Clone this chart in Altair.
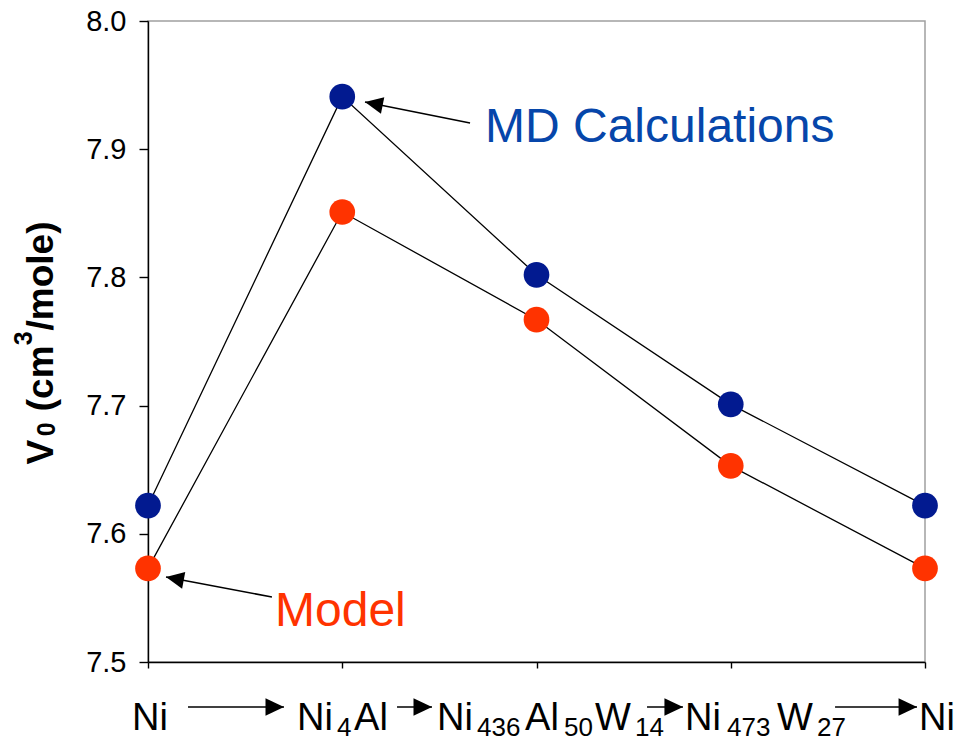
import altair as alt
import pandas as pd

# ---- data ----
categories = ["Ni", "Ni4Al", "Ni436Al50W14", "Ni473W27", "Ni (final)"]
x_index = [0, 1, 2, 3, 4]
md_values = [7.622, 7.941, 7.802, 7.701, 7.622]
model_values = [7.573, 7.851, 7.767, 7.653, 7.573]
y_ticks = [7.5, 7.6, 7.7, 7.8, 7.9, 8.0]

# x-axis label pieces (composition formulas with subscripts), positions in data units
xl_text = ["Ni", "Ni", "4", "Al", "Ni", "436", "Al", "50", "W", "14", "Ni", "473", "W", "27", "Ni"]
xl_x = [-0.082, 0.767, 0.973, 1.061, 1.488, 1.694, 1.941, 2.142, 2.301, 2.507, 2.765, 2.981, 3.238, 3.444, 3.969]
xl_sub = [0, 0, 1, 0, 0, 1, 0, 1, 0, 1, 0, 1, 0, 1, 0]
xl_y_main = 7.4470
xl_y_sub = 7.4425

# arrows between composition labels
ax_tail = [0.206, 1.282, 2.569, 3.537]
ax_tip = [0.700, 1.462, 2.754, 3.959]
ax_y = 7.4649

# annotation arrows (MD Calculations, Model)
an_tail_x = [1.658, 0.638]
an_tail_y = [7.9204, 7.5507]
an_tip_x = [1.117, 0.0927]
an_tip_y = [7.9368, 7.5663]
an_angle = [281.3, 280.7]

# annotation labels
an_text = ["MD Calculations", "Model"]
an_x = [1.735, 0.654]
an_y = [7.9056, 7.5281]
an_color = ["#0646AA", "#FF3300"]

# y title pieces: V0 (cm3/mole)
yt_text = ["V", "0", "(cm", "3", "/mole)"]
yt_x = [-0.489, -0.479, -0.489, -0.597, -0.489]
yt_y = [7.654, 7.676, 7.6956, 7.747, 7.7586]
yt_size = [37, 25, 37, 25, 37]

FONT = "Liberation Sans"
MD_COLOR = "#021A90"
MODEL_COLOR = "#FF3300"

df = pd.DataFrame({
    "x": x_index * 2,
    "y": md_values + model_values,
    "series": ["MD"] * 5 + ["Model"] * 5,
})

xs = alt.Scale(domain=[0, 4], nice=False, zero=False)
ys = alt.Scale(domain=[7.5, 8.0], nice=False, zero=False)
X = alt.X("x:Q", scale=xs, axis=alt.Axis(values=x_index, labels=False, title="", tickSize=6, grid=False))
Y = alt.Y("y:Q", scale=ys, axis=alt.Axis(values=y_ticks, format=".1f", title="", tickSize=9,
                                         labelPadding=13, labelFontSize=29, labelFont=FONT,
                                         labelColor="black", grid=False))

lines = alt.Chart(df).mark_line(color="black", strokeWidth=1.3).encode(x=X, y=Y, detail="series:N")
points = alt.Chart(df).mark_circle(size=660, opacity=1).encode(
    x=X, y=Y,
    color=alt.Color("series:N", scale=alt.Scale(domain=["MD", "Model"], range=[MD_COLOR, MODEL_COLOR]), legend=None),
)

xl_df = pd.DataFrame({
    "x": xl_x,
    "y": [xl_y_sub if s else xl_y_main for s in xl_sub],
    "t": xl_text,
    "fs": [26 if s else 38 for s in xl_sub],
})
xlabels = alt.Chart(xl_df).mark_text(align="left", baseline="alphabetic", font=FONT, color="black").encode(
    x=X, y=Y, text="t:N", size=alt.Size("fs:Q", scale=None)
)

HEAD = "M0,0L0.47,1L-0.47,1Z"

ax_df = pd.DataFrame({"x": ax_tail, "x2": ax_tip, "y": [ax_y] * 4})
ax_lines = alt.Chart(ax_df).mark_rule(color="black", strokeWidth=1.5).encode(
    x=X, x2="x2:Q", y=Y
)
axh_df = pd.DataFrame({"x": ax_tip, "y": [ax_y] * 4, "ang": [90] * 4})
ax_heads = alt.Chart(axh_df).mark_point(shape=HEAD, filled=True, size=1369, color="black", opacity=1).encode(
    x=X, y=Y, angle=alt.Angle("ang:Q", scale=None)
)

an_df = pd.DataFrame({"x": an_tail_x, "y": an_tail_y, "x2": an_tip_x, "y2": an_tip_y})
an_lines = alt.Chart(an_df).mark_rule(color="black", strokeWidth=1.5).encode(
    x=X, y=Y, x2="x2:Q", y2="y2:Q"
)
anh_df = pd.DataFrame({"x": an_tip_x, "y": an_tip_y, "ang": an_angle})
an_heads = alt.Chart(anh_df).mark_point(shape=HEAD, filled=True, size=1296, color="black", opacity=1).encode(
    x=X, y=Y, angle=alt.Angle("ang:Q", scale=None)
)

at_df = pd.DataFrame({"x": an_x, "y": an_y, "t": an_text, "c": an_color})
an_labels = alt.Chart(at_df).mark_text(align="left", baseline="alphabetic", font=FONT, fontSize=48).encode(
    x=X, y=Y, text="t:N", color=alt.Color("c:N", scale=None)
)

yt_df = pd.DataFrame({"x": yt_x, "y": yt_y, "t": yt_text, "fs": yt_size})
ytitle = alt.Chart(yt_df).mark_text(align="left", baseline="alphabetic", font=FONT, fontWeight="bold",
                                    angle=270, color="black").encode(
    x=X, y=Y, text="t:N", size=alt.Size("fs:Q", scale=None)
)

chart = alt.layer(
    lines, points, ax_lines, ax_heads, an_lines, an_heads, an_labels, xlabels, ytitle
).properties(
    width=777, height=641,
    autosize=alt.AutoSizeParams(type="none"),
    padding={"left": 148, "top": 21, "right": 41, "bottom": 81},
).configure_view(
    stroke="#A0A0A0", strokeWidth=1.5
).configure_axis(
    domainColor="black", tickColor="black", domainWidth=1.4, tickWidth=1.4
)

chart.save("out.html", embed_options={"renderer": "svg", "actions": False})
